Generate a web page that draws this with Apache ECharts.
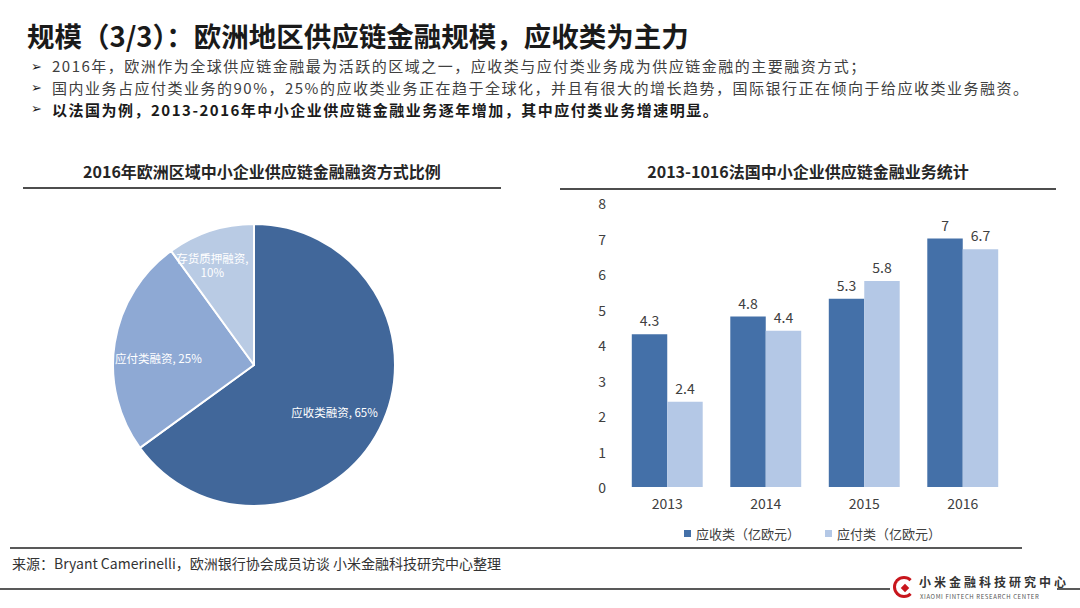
<!DOCTYPE html>
<html>
<head>
<meta charset="utf-8">
<script src="https://cdn.jsdelivr.net/npm/echarts@6/dist/echarts.min.js"></script>
<style>
  html, body { margin: 0; padding: 0; background: #fff; }
  #wrap { position: relative; width: 1080px; height: 608px; overflow: hidden; font-family: "Noto Sans CJK SC", "Noto Sans", sans-serif; }
  #chart { position: absolute; left: 0; top: 0; width: 1080px; height: 608px; }
  .t { position: absolute; white-space: nowrap; }
  .line { position: absolute; background: #4d4d4d; }
  .arrow { position: absolute; font-family: "DejaVu Sans", sans-serif; font-size: 13px; line-height: 16px; color: #1a1a1a; }
  .b { position: absolute; white-space: nowrap; font-size: 15px; letter-spacing: 1.5px; line-height: 22px; }
</style>
</head>
<body>
<div id="wrap">
  <div id="chart"></div>
  <div class="t" style="left:27px;top:15px;font-size:27.5px;font-weight:bold;color:#1a1a1a;line-height:40px;">规模（3/3）：欧洲地区供应链金融规模，应收类为主力</div>
  <div class="arrow" style="left:31px;top:59px;">➢</div>
  <div class="arrow" style="left:31px;top:80px;">➢</div>
  <div class="arrow" style="left:31px;top:101px;">➢</div>
  <div class="b" style="left:52px;top:55px;color:#404040;">2016年，欧洲作为全球供应链金融最为活跃的区域之一，应收类与应付类业务成为供应链金融的主要融资方式；</div>
  <div class="b" style="left:52px;top:77px;color:#404040;">国内业务占应付类业务的90%，25%的应收类业务正在趋于全球化，并且有很大的增长趋势，国际银行正在倾向于给应收类业务融资。</div>
  <div class="b" style="left:52px;top:99px;font-weight:bold;color:#1a1a1a;">以法国为例，2013-2016年中小企业供应链金融业务逐年增加，其中应付类业务增速明显。</div>

  <div class="t" style="left:23px;width:478px;top:159px;text-align:center;font-size:16px;font-weight:bold;color:#262626;line-height:24px;">2016年欧洲区域中小企业供应链金融融资方式比例</div>
  <div class="line" style="left:23px;top:187px;width:478px;height:2px;"></div>
  <div class="t" style="left:560px;width:496px;top:159px;text-align:center;font-size:16px;font-weight:bold;color:#262626;line-height:24px;">2013-1016法国中小企业供应链金融业务统计</div>
  <div class="line" style="left:560px;top:188px;width:496px;height:2px;"></div>

  <div class="line" style="left:10px;top:547px;width:1012px;height:2px;background:#595959;"></div>
  <div class="t" style="left:12px;top:554px;font-size:14px;color:#333;line-height:18px;">来源：Bryant Camerinelli，欧洲银行协会成员访谈 小米金融科技研究中心整理</div>
  <div class="line" style="left:0px;top:588px;width:890px;height:1.5px;background:#595959;"></div>
  <div class="line" style="left:1057px;top:588px;width:23px;height:1.5px;background:#595959;"></div>
  <div style="position:absolute;left:893px;top:576px;width:16px;height:16px;border-radius:50%;border:3px solid #c8161d;border-right-color:#fff;"></div>
  <div style="position:absolute;left:902px;top:585px;width:6px;height:6px;background:#c8161d;transform:rotate(45deg);"></div>
  <div class="t" style="left:919px;top:574px;font-size:12px;font-weight:bold;color:#333;letter-spacing:3px;line-height:16px;">小米金融科技研究中心</div>
  <div class="t" style="left:920px;top:592px;font-size:6px;color:#555;letter-spacing:0.6px;line-height:10px;">XIAOMI FINTECH RESEARCH CENTER</div>
</div>
<script>
var pieNames = ['应收类融资', '应付类融资', '存货质押融资'];
var pieValues = [65, 25, 10];
var pieLabels = ['应收类融资, 65%', '应付类融资, 25%', '存货质押融资,\n10%'];

var years = ['2013', '2014', '2015', '2016'];
var receivable = [4.3, 4.8, 5.3, 7];
var payable = [2.4, 4.4, 5.8, 6.7];
var seriesNames = ['应收类（亿欧元）', '应付类（亿欧元）'];
var yTicks = [0, 1, 2, 3, 4, 5, 6, 7, 8];

var pieColors = ['#41679A', '#8EA9D4', '#B9CBE4'];
var labelShift = [[15, 14], [-23, 4], [-19, -30]];

var chart = echarts.init(document.getElementById('chart'), null, { renderer: 'svg' });
chart.setOption({
  animation: false,
  backgroundColor: 'transparent',
  textStyle: { fontFamily: '"Noto Sans CJK SC", "Noto Sans", sans-serif' },
  legend: {
    left: 679, top: 522,
    itemWidth: 7, itemHeight: 7, itemGap: 25,
    icon: 'rect',
    textStyle: { fontSize: 13, color: '#404040' },
    data: seriesNames
  },
  grid: { left: 618, right: 68, top: 203, bottom: 121 },
  xAxis: {
    type: 'category', data: years,
    axisLine: { show: false }, axisTick: { show: false },
    axisLabel: { fontSize: 14, color: '#404040', margin: 9 }
  },
  yAxis: {
    type: 'value', min: yTicks[0], max: yTicks[yTicks.length - 1], interval: 1,
    axisLine: { show: false }, axisTick: { show: false }, splitLine: { show: false },
    axisLabel: { fontSize: 14, color: '#404040', margin: 12 }
  },
  series: [
    {
      type: 'pie', center: [254, 365], radius: 141, startAngle: 90, clockwise: true,
      itemStyle: { borderColor: '#fff', borderWidth: 2 },
      label: {
        show: true, position: 'inside', color: '#fff', fontSize: 11.5, lineHeight: 14, align: 'center',
        formatter: function (p) { return pieLabels[p.dataIndex]; }
      },
      labelLayout: function (p) { return { dx: labelShift[p.dataIndex][0], dy: labelShift[p.dataIndex][1] }; },
      emphasis: { disabled: true },
      data: pieNames.map(function (n, i) { return { name: n, value: pieValues[i], itemStyle: { color: pieColors[i] } }; })
    },
    {
      name: seriesNames[0], type: 'bar', data: receivable,
      barGap: '0%', barCategoryGap: '28%',
      itemStyle: { color: '#4470A8' },
      label: { show: true, position: 'top', distance: 7, fontSize: 14, color: '#404040' }
    },
    {
      name: seriesNames[1], type: 'bar', data: payable,
      barGap: '0%', barCategoryGap: '28%',
      itemStyle: { color: '#B4C8E6' },
      label: { show: true, position: 'top', distance: 7, fontSize: 14, color: '#404040' }
    }
  ]
});
</script>
</body>
</html>
